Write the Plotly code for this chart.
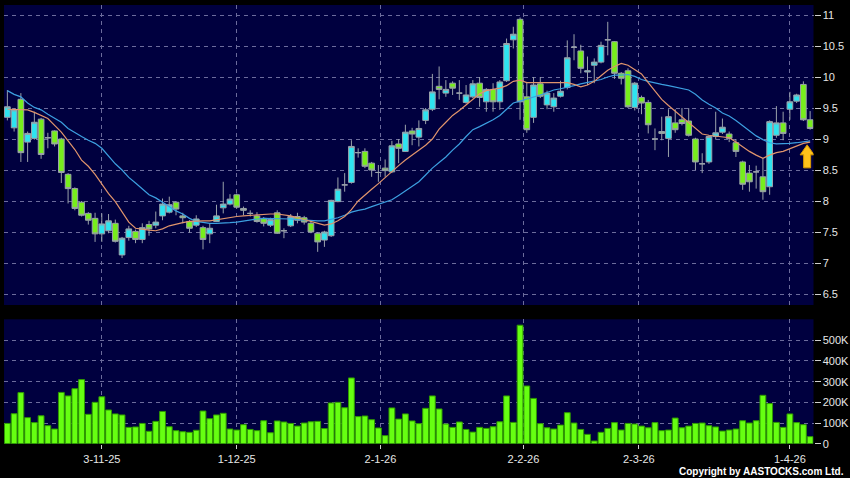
import plotly.graph_objects as go

# ---------------- data ----------------
opens = [9.35, 9.18, 9.64, 8.95, 9.01, 9.32, 9.02, 9.13, 9.00, 8.43,
         8.20, 7.98, 7.80, 7.72, 7.47, 7.52, 7.64, 7.13, 7.41, 7.51,
         7.38, 7.62, 7.61, 7.76, 7.82, 7.98, 7.76, 7.67, 7.61, 7.57,
         7.47, 7.67, 7.89, 7.95, 8.10, 7.88, 7.80, 7.76, 7.72, 7.61,
         7.81, 7.52, 7.60, 7.75, 7.73, 7.64, 7.48, 7.37, 7.44, 7.99,
         8.26, 8.30, 8.78, 8.80, 8.61, 8.46, 8.53, 8.47, 8.92, 8.80,
         9.13, 9.03, 9.30, 9.48, 9.85, 9.74, 9.90, 9.74, 9.59, 9.68,
         9.90, 9.60, 9.80, 9.60, 9.94, 10.60, 10.93, 9.68, 9.35, 9.89,
         9.55, 9.52, 9.69, 9.83, 10.48, 10.42, 10.08, 10.19, 10.24, 10.60,
         10.57, 10.06, 10.10, 9.51, 9.67, 9.59, 9.00, 9.12, 9.01, 9.26,
         9.31, 9.29, 9.00, 8.60, 8.63, 9.04, 9.11, 9.08, 8.94, 8.63,
         8.45, 8.47, 8.39, 8.23, 9.06, 9.26, 9.48, 9.61, 9.88, 9.31]
highs = [9.79, 9.50, 9.74, 9.12, 9.44, 9.34, 9.10, 9.14, 9.02, 8.45,
         8.22, 8.00, 7.82, 7.81, 7.80, 7.79, 7.70, 7.42, 7.60, 7.54,
         7.64, 7.68, 7.83, 8.04, 8.07, 8.00, 7.81, 7.69, 7.77, 7.60,
         7.64, 7.94, 8.31, 8.11, 8.12, 7.91, 7.85, 7.82, 7.74, 7.73,
         7.85, 7.56, 7.79, 7.81, 7.76, 7.68, 7.50, 7.52, 8.02, 8.38,
         8.45, 8.98, 8.85, 8.85, 8.63, 8.58, 8.67, 8.97, 9.00, 9.23,
         9.18, 9.30, 9.50, 10.05, 10.17, 9.95, 9.93, 9.95, 9.87, 9.95,
         10.00, 9.82, 9.90, 9.95, 10.62, 10.81, 10.96, 9.92, 10.00, 10.00,
         9.78, 9.74, 9.94, 10.59, 10.69, 10.52, 10.33, 10.30, 10.57, 10.89,
         10.58, 10.08, 10.14, 9.92, 9.70, 9.63, 9.17, 9.36, 9.48, 9.48,
         9.50, 9.50, 9.02, 8.77, 9.06, 9.44, 9.33, 9.12, 9.00, 8.65,
         8.58, 8.57, 8.69, 9.30, 9.53, 9.44, 9.76, 9.73, 9.93, 9.45]
lows = [9.30, 9.12, 8.63, 8.63, 8.99, 8.68, 8.85, 8.88, 8.29, 7.96,
        7.85, 7.75, 7.62, 7.34, 7.34, 7.48, 7.33, 7.08, 7.36, 7.32,
        7.32, 7.44, 7.56, 7.69, 7.80, 7.77, 7.64, 7.49, 7.58, 7.22,
        7.32, 7.66, 7.80, 7.93, 7.88, 7.77, 7.75, 7.65, 7.59, 7.58,
        7.47, 7.40, 7.58, 7.64, 7.62, 7.48, 7.18, 7.26, 7.42, 7.98,
        8.15, 8.28, 8.70, 8.53, 8.39, 8.31, 8.39, 8.45, 8.61, 8.79,
        8.90, 8.88, 9.24, 9.45, 9.64, 9.68, 9.71, 9.63, 9.57, 9.66,
        9.52, 9.44, 9.44, 9.47, 9.92, 10.46, 9.31, 9.10, 9.26, 9.66,
        9.48, 9.44, 9.67, 9.80, 10.27, 10.06, 9.87, 9.90, 10.22, 10.35,
        9.97, 9.88, 9.50, 9.46, 9.40, 9.09, 8.82, 8.98, 8.71, 9.10,
        9.22, 9.04, 8.50, 8.45, 8.60, 8.99, 9.08, 8.95, 8.71, 8.18,
        8.15, 8.20, 8.02, 8.10, 9.02, 8.98, 9.31, 9.58, 9.29, 9.15]
closes = [9.52, 9.47, 8.78, 9.09, 9.27, 8.75, 9.02, 8.92, 8.46, 8.20,
          7.88, 7.77, 7.69, 7.47, 7.63, 7.68, 7.35, 7.40, 7.55, 7.38,
          7.57, 7.55, 7.66, 7.95, 7.94, 7.87, 7.73, 7.56, 7.71, 7.38,
          7.56, 7.76, 7.95, 8.03, 7.90, 7.85, 7.80, 7.67, 7.64, 7.70,
          7.48, 7.52, 7.75, 7.69, 7.66, 7.50, 7.34, 7.50, 8.01, 8.19,
          8.26, 8.88, 8.78, 8.56, 8.50, 8.46, 8.49, 8.89, 8.85, 9.11,
          9.08, 9.17, 9.47, 9.76, 9.80, 9.80, 9.82, 9.74, 9.71, 9.89,
          9.67, 9.80, 9.60, 9.92, 10.54, 10.69, 9.60, 9.15, 9.87, 9.69,
          9.74, 9.66, 9.77, 10.31, 10.48, 10.14, 10.10, 10.24, 10.51, 10.60,
          10.06, 9.98, 9.52, 9.90, 9.58, 9.23, 9.00, 9.09, 9.36, 9.15,
          9.25, 9.06, 8.63, 8.60, 9.04, 9.10, 9.19, 9.01, 8.80, 8.27,
          8.31, 8.47, 8.15, 9.28, 9.26, 9.09, 9.60, 9.71, 9.31, 9.17]
volumes_k = [98, 145, 247, 126, 102, 135, 87, 71, 248, 231,
             266, 310, 142, 200, 227, 163, 144, 139, 79, 81,
             98, 60, 108, 156, 82, 63, 58, 55, 65, 158,
             121, 139, 147, 71, 66, 92, 69, 63, 111, 53,
             110, 105, 98, 85, 100, 106, 108, 73, 197, 200,
             174, 318, 131, 134, 116, 76, 39, 173, 119, 144,
             110, 97, 171, 231, 168, 95, 79, 105, 69, 56,
             79, 74, 82, 106, 231, 103, 573, 279, 219, 97,
             77, 71, 90, 150, 100, 69, 45, 13, 55, 74,
             102, 66, 98, 95, 85, 77, 102, 63, 66, 124,
             77, 85, 98, 100, 87, 81, 61, 66, 71, 111,
             100, 111, 234, 194, 103, 79, 144, 102, 92, 34]
ma_short = [9.48, 9.48, 9.48, 9.47, 9.43, 9.38, 9.33, 9.22, 9.11, 8.97,
            8.83, 8.66, 8.56, 8.43, 8.27, 8.12, 7.99, 7.82, 7.66, 7.56,
            7.54, 7.53, 7.52, 7.55, 7.60, 7.63, 7.65, 7.67, 7.68, 7.68,
            7.68, 7.70, 7.71, 7.73, 7.75, 7.76, 7.77, 7.78, 7.79, 7.79,
            7.79, 7.78, 7.76, 7.73, 7.70, 7.66, 7.63, 7.61, 7.63, 7.68,
            7.75, 7.86, 8.00, 8.10, 8.19, 8.28, 8.38, 8.47, 8.57, 8.66,
            8.74, 8.82, 8.90, 9.00, 9.16, 9.27, 9.38, 9.46, 9.55, 9.64,
            9.73, 9.78, 9.80, 9.82, 9.86, 9.93, 9.95, 9.91, 9.91, 9.91,
            9.91, 9.91, 9.91, 9.91, 9.88, 9.84, 9.87, 9.93, 10.02, 10.11,
            10.17, 10.22, 10.19, 10.12, 10.05, 9.91, 9.77, 9.64, 9.54, 9.45,
            9.35, 9.26, 9.17, 9.08, 9.06, 9.05, 9.04, 9.02, 8.95, 8.87,
            8.80, 8.74, 8.69, 8.74, 8.78, 8.80, 8.84, 8.89, 8.93, 8.95]
ma_long = [9.78, 9.72, 9.68, 9.58, 9.51, 9.47, 9.40, 9.33, 9.27, 9.17,
           9.10, 9.04, 8.98, 8.93, 8.85, 8.72, 8.60, 8.50, 8.38, 8.29,
           8.20, 8.10, 8.05, 7.98, 7.92, 7.84, 7.79, 7.72, 7.67, 7.65,
           7.64, 7.64, 7.64, 7.65, 7.66, 7.68, 7.70, 7.71, 7.72, 7.72,
           7.72, 7.72, 7.71, 7.70, 7.69, 7.68, 7.68, 7.68, 7.70, 7.73,
           7.77, 7.82, 7.85, 7.87, 7.91, 7.95, 7.98, 8.02, 8.09, 8.16,
           8.23, 8.31, 8.42, 8.53, 8.62, 8.71, 8.82, 8.92, 9.04, 9.15,
           9.20, 9.25, 9.31, 9.38, 9.48, 9.58, 9.61, 9.64, 9.67, 9.71,
           9.75, 9.79, 9.81, 9.83, 9.86, 9.89, 9.91, 9.93, 9.96, 10.00,
           10.03, 10.03, 10.04, 10.01, 9.96, 9.93, 9.90, 9.88, 9.86, 9.84,
           9.82, 9.79, 9.72, 9.63, 9.56, 9.50, 9.42, 9.37, 9.30, 9.22,
           9.13, 9.05, 8.99, 8.94, 8.92, 8.92, 8.93, 8.94, 8.96, 8.97]
date_tick_pos = [14, 34, 55.3, 76.5, 93.6, 116]
date_tick_text = ["3-11-25", "1-12-25", "2-1-26", "2-2-26", "2-3-26", "1-4-26"]
price_ticks = [6.5, 7, 7.5, 8, 8.5, 9, 9.5, 10, 10.5, 11]
vol_ticks_k = [0, 100, 200, 300, 400, 500]

# ---------------- figure ----------------
W, H = 850, 478
N = len(closes)
xs = list(range(N))
volumes = [v * 1000 for v in volumes_k]

CYAN = "#2ee4f0"
GREEN = "#77ee1c"
WICK = "#9aa2aa"
GRID = "#6c6c9c"
NAVY = "#00003f"
FONT = "Liberation Sans, Arial, sans-serif"

fig = go.Figure()
fig.add_trace(go.Candlestick(
    x=xs, open=opens, high=highs, low=lows, close=closes,
    increasing=dict(fillcolor=CYAN, line=dict(color=WICK, width=1)),
    decreasing=dict(fillcolor=GREEN, line=dict(color=WICK, width=1)),
    whiskerwidth=0, xaxis="x", yaxis="y", showlegend=False, hoverinfo="skip"))
fig.add_trace(go.Scatter(x=xs, y=ma_long, mode="lines",
                         line=dict(color="#3c9fe0", width=1.2),
                         xaxis="x", yaxis="y", showlegend=False, hoverinfo="skip"))
fig.add_trace(go.Scatter(x=xs, y=ma_short, mode="lines",
                         line=dict(color="#e0946c", width=1.2),
                         xaxis="x", yaxis="y", showlegend=False, hoverinfo="skip"))
fig.add_trace(go.Bar(x=xs, y=volumes, width=0.86,
                     marker=dict(color="#66ff11", line=dict(color="#2f9a00", width=1)),
                     xaxis="x2", yaxis="y2", showlegend=False, hoverinfo="skip"))

def px_x(a):
    return a / W

def px_y(a):
    return 1 - a / H

x_dom = [px_x(4), px_x(813.5)]
price_top_px, price_bot_px = 5, 305
vol_top_px, vol_bot_px = 319.3, 443.7
# price scale: 11 at 15px, 62px per unit
p_hi = 11 + (15 - price_top_px) / 62
p_lo = 11 - (price_bot_px - 15) / 62
v_hi = (vol_bot_px - vol_top_px) / 20.68 * 100000

axis_font = dict(family=FONT, size=11, color="#e6e6e6")
common_x = dict(domain=x_dom, range=[-0.5, N - 0.5], tickvals=date_tick_pos,
                showgrid=True, gridcolor=GRID, griddash="4px,4px", gridwidth=1,
                zeroline=False, showline=False, fixedrange=True)

fig.update_layout(
    width=W, height=H, margin=dict(l=0, r=0, t=0, b=0, autoexpand=False),
    paper_bgcolor="#000000", plot_bgcolor=NAVY,
    boxgap=0.16, boxgroupgap=0,
    font=dict(family=FONT, color="#e6e6e6"),
    xaxis=dict(**common_x, anchor="y", showticklabels=False, ticks="",
               rangeslider=dict(visible=False)),
    xaxis2=dict(**common_x, anchor="y2", matches="x", ticktext=date_tick_text,
                showticklabels=True, ticks="outside", ticklen=4, tickcolor="#d0d0d0",
                ticklabelstandoff=1, tickfont=axis_font),
    yaxis=dict(domain=[px_y(price_bot_px), px_y(price_top_px)], range=[p_lo, p_hi],
               side="right", anchor="x", tickvals=price_ticks,
               ticktext=[f"{t:g}" for t in price_ticks],
               ticks="outside", ticklen=6, tickcolor="#d0d0d0", tickfont=axis_font,
               showgrid=True, gridcolor=GRID, griddash="4px,4px",
               zeroline=False, showline=False, fixedrange=True),
    yaxis2=dict(domain=[px_y(vol_bot_px), px_y(vol_top_px)], range=[0, v_hi],
                side="right", anchor="x2", tickvals=[v * 1000 for v in vol_ticks_k],
                ticktext=[("%dK" % v) if v else "0" for v in vol_ticks_k],
                ticks="outside", ticklen=6, tickcolor="#d0d0d0", tickfont=axis_font,
                showgrid=True, gridcolor=GRID, griddash="4px,4px",
                zeroline=False, showline=False, fixedrange=True),
)

# latest-price marker: a block arrow just below the last moving-average point
fig.add_shape(type="path", xref="x", yref="y",
              xsizemode="pixel", ysizemode="pixel",
              xanchor=N - 1, yanchor=ma_long[-1],
              path="M -3,-4 L 4,-14 L 0.5,-14 L 0.5,-27 L -6.5,-27 L -6.5,-14 L -10,-14 Z",
              fillcolor="#ffc21a", line=dict(color="#d89a00", width=1), layer="above")

fig.add_annotation(x=px_x(846), y=px_y(471), xref="paper", yref="paper",
                   xanchor="right", yanchor="middle", showarrow=False,
                   text="<b>Copyright by AASTOCKS.com Ltd.</b>",
                   font=dict(family=FONT, size=10, color="#ffffff"))

fig.write_html("out.html", config={"displayModeBar": False, "staticPlot": True},
               post_script="document.body.style.margin='0';")
